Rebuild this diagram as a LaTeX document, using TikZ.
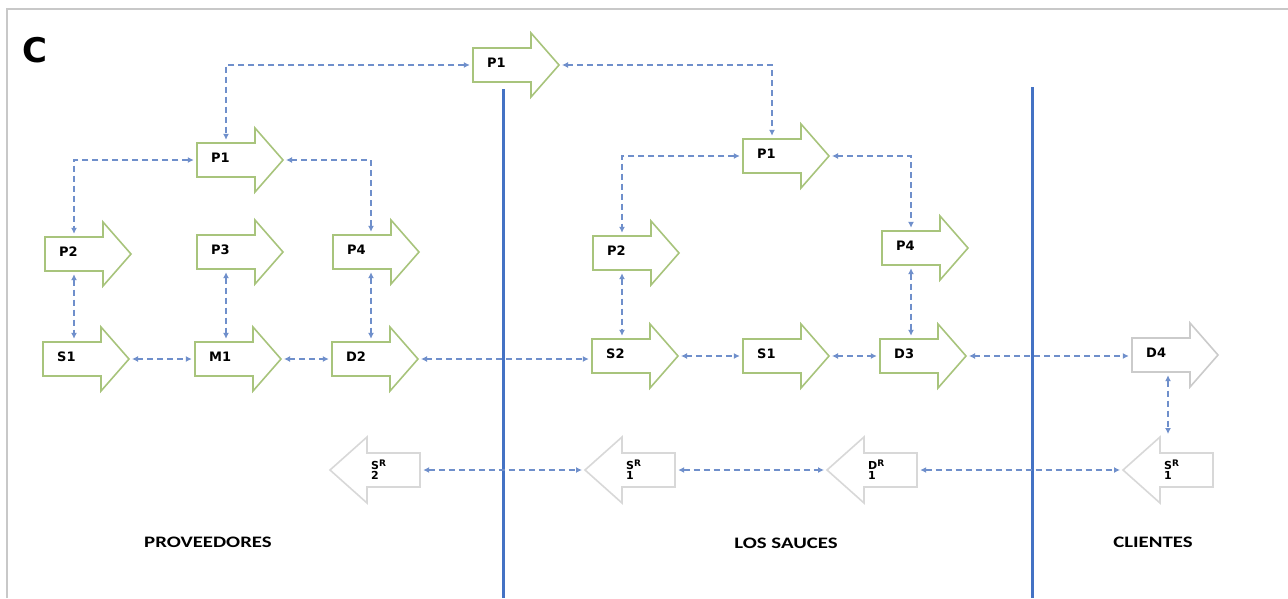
\documentclass[tikz,border=0pt]{standalone}
\usepackage{fontspec}
\usepackage{graphicx}
\setmainfont{DejaVu Sans}
\newfontfamily\calib{Carlito}
\usetikzlibrary{arrows.meta,calc}
\definecolor{grn}{HTML}{A8C47C}
\definecolor{lgray}{HTML}{D8D8D8}
\definecolor{dgray}{HTML}{CBCBCB}
\definecolor{conncol}{HTML}{6F8FCB}
\definecolor{lineblue}{HTML}{4472C4}
\definecolor{framegray}{HTML}{C8C8C8}
\tikzset{
  arrline/.style={line width=1.6pt, fill=white, line join=miter},
  body/.style={draw=none, inner sep=0pt, minimum width=58pt, minimum height=34pt},
  lbl/.style={font=\bfseries\fontsize{13}{15}\selectfont, inner sep=0pt},
  srlbl/.style={font=\bfseries\fontsize{11}{11}\selectfont, inner sep=0pt, align=left},
  regionlbl/.style={font=\calib\bfseries\fontsize{16}{18}\selectfont, inner sep=0pt},
  conn/.style={draw=conncol, line width=1.4pt, dash pattern=on 6pt off 4pt,
    {Latex[length=6pt,width=6pt]}-{Latex[length=6pt,width=6pt]},
    shorten <=3pt, shorten >=3pt},
  vline/.style={draw=lineblue, line width=3pt},
}
\newcommand\supR{\raisebox{3pt}{\fontsize{9}{9}\selectfont R}}
% right-pointing arrow: [colour]{name}{body left x}{centre y}{label}
\newcommand\RArr[5][grn]{%
  \draw[arrline,draw=#1] (#3,#4-17) -- (#3+58,#4-17) -- (#3+58,#4-32) -- (#3+86,#4)
     -- (#3+58,#4+32) -- (#3+58,#4+17) -- (#3,#4+17) -- cycle;
  \node[body] (#2) at (#3+29,#4) {};
  \coordinate (#2-tip) at (#3+86,#4);
  \node[lbl,anchor=west] (#2-l) at (#3+14,#4-2) {#5};
}
% left-pointing arrow: {name}{tip x}{centre y}{label}
\newcommand\LArr[4]{%
  \draw[arrline,draw=lgray] (#2,#3) -- (#2+37,#3-33) -- (#2+37,#3-17) -- (#2+90,#3-17)
     -- (#2+90,#3+17) -- (#2+37,#3+17) -- (#2+37,#3+33) -- cycle;
  \node[body,minimum width=53pt] (#1) at (#2+63.5,#3) {};
  \coordinate (#1-tip) at (#2,#3);
  \coordinate (#1-hb) at (#2+37,#3-33);
  \node[srlbl,anchor=west] (#1-l) at (#2+41,#3) {#4};
}
\begin{document}
\begin{tikzpicture}[x=1pt,y=-1pt]
\useasboundingbox (0,0) rectangle (1288,598);
% frame
\draw[framegray, line width=2pt] (7,598) -- (7,9) -- (1288,9);
\node[font=\bfseries\fontsize{34}{36}\selectfont, inner sep=0pt] (clabel) at (35,50) {C};
% swimlane separators
\draw[vline] (503,89) -- (503,598);
\draw[vline] (1032,87) -- (1032,598);
% right arrows
\RArr{tp1}{473}{65}{P1}
\RArr{lp1}{197}{160}{P1}
\RArr{lp2}{45}{254}{P2}
\RArr{lp3}{197}{252}{P3}
\RArr{lp4}{333}{252}{P4}
\RArr{ls1}{43}{359}{S1}
\RArr{lm1}{195}{359}{M1}
\RArr{ld2}{332}{359}{D2}
\RArr{rp1}{743}{156}{P1}
\RArr{rp2}{593}{253}{P2}
\RArr{rp4}{882}{248}{P4}
\RArr{rs2}{592}{356}{S2}
\RArr{rs1}{743}{356}{S1}
\RArr{rd3}{880}{356}{D3}
\RArr[dgray]{cd4}{1132}{355}{D4}
% left arrows
\LArr{sr2}{330}{470}{S\supR\\[-1pt]2}
\LArr{sr1m}{585}{470}{S\supR\\[-1pt]1}
\LArr{dr1}{827}{470}{D\supR\\[-1pt]1}
\LArr{sr1r}{1123}{470}{S\supR\\[-1pt]1}
% region labels
\node[regionlbl] (prov) at (208,542) {\scalebox{1.3}[1]{PROVEEDORES}};
\node[regionlbl] (sauces) at (786,543) {\scalebox{1.3}[1]{LOS SAUCES}};
\node[regionlbl] (clientes) at (1153,542) {\scalebox{1.3}[1]{CLIENTES}};
% connectors
\draw[conn] (tp1.west) -| (lp1.north);
\draw[conn] (tp1-tip) -| (rp1.north);
\draw[conn] (lp1.west) -| (lp2.north);
\draw[conn] (lp1-tip) -| ([xshift=9pt]lp4.north);
\draw[conn] (rp1.west) -| (rp2.north);
\draw[conn] (rp1-tip) -| (rp4.north);
\draw[conn] (lp2.south) -- (lp2.south |- ls1.north);
\draw[conn] (lp3.south) -- (lp3.south |- lm1.north);
\draw[conn] ([xshift=9pt]lp4.south) -- ([xshift=9pt]lp4.south |- ld2.north);
\draw[conn] (rp2.south) -- (rp2.south |- rs2.north);
\draw[conn] (rp4.south) -- (rp4.south |- rd3.north);
\draw[conn] (ls1-tip) -- (lm1.west);
\draw[conn] (lm1-tip) -- (ld2.west);
\draw[conn] (ld2-tip) -- (ld2-tip -| rs2.west);
\draw[conn] (rs2-tip) -- (rs1.west);
\draw[conn] (rs1-tip) -- (rd3.west);
\draw[conn] (rd3-tip) -- (rd3-tip -| cd4.west);
\draw[conn] ([xshift=7pt]cd4.south) -- ([xshift=7pt]cd4.south |- sr1r-hb);
\draw[conn] (sr2.east) -- (sr1m-tip);
\draw[conn] (sr1m.east) -- (dr1-tip);
\draw[conn] (dr1.east) -- (sr1r-tip);
\end{tikzpicture}
\end{document}
